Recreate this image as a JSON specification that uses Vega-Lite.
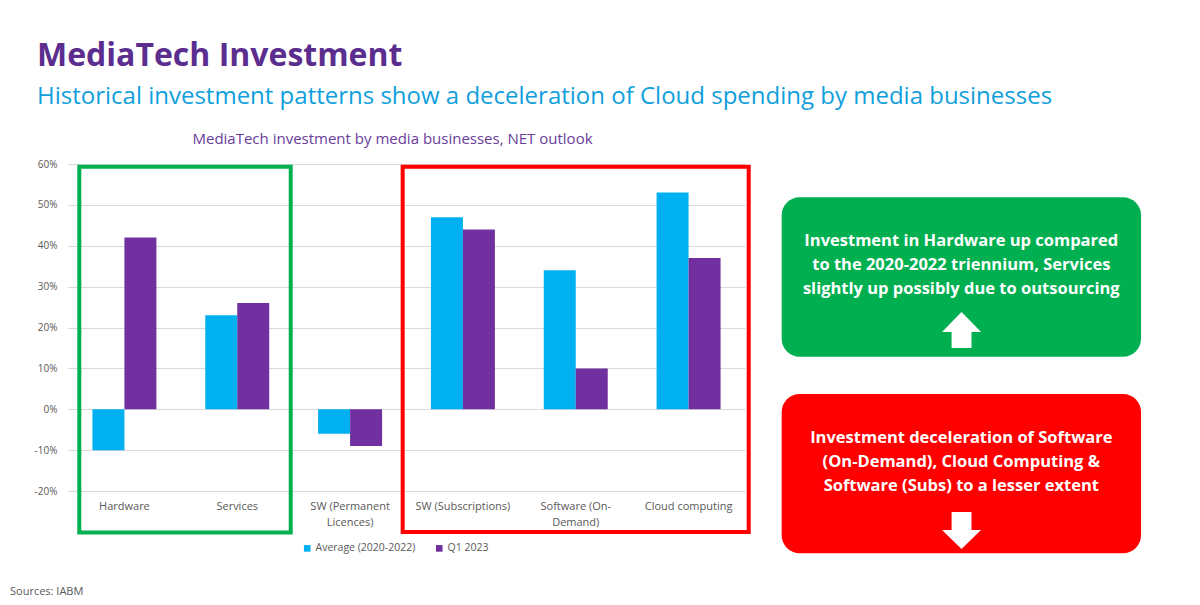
{
  "$schema": "https://vega.github.io/schema/vega-lite/v6.json",
  "width": 677,
  "height": 327,
  "autosize": {"type": "none"},
  "padding": {"left": 68, "top": 164, "right": 455, "bottom": 114},
  "background": "#ffffff",
  "config": {
    "view": {"stroke": null},
    "font": "Open Sans",
    "axis": {"labelFont": "Open Sans", "titleFont": "Open Sans"},
    "legend": {"labelFont": "Open Sans"}
  },
  "title": {
    "text": "MediaTech Investment",
    "subtitle": "Historical investment patterns show a deceleration of Cloud spending by media businesses",
    "anchor": "start",
    "frame": "group",
    "dx": -31,
    "offset": 21,
    "font": "Open Sans",
    "fontSize": 32,
    "fontWeight": "bold",
    "color": "#5B2D8E",
    "subtitleFont": "Open Sans",
    "subtitleFontSize": 24,
    "subtitleColor": "#0FA0DC",
    "subtitlePadding": 12
  },
  "data": {
    "values": [
      {"category": "Hardware", "series": "Average (2020-2022)", "value": -10},
      {"category": "Hardware", "series": "Q1 2023", "value": 42},
      {"category": "Services", "series": "Average (2020-2022)", "value": 23},
      {"category": "Services", "series": "Q1 2023", "value": 26},
      {"category": "SW (Permanent Licences)", "series": "Average (2020-2022)", "value": -6},
      {"category": "SW (Permanent Licences)", "series": "Q1 2023", "value": -9},
      {"category": "SW (Subscriptions)", "series": "Average (2020-2022)", "value": 47},
      {"category": "SW (Subscriptions)", "series": "Q1 2023", "value": 44},
      {"category": "Software (On-Demand)", "series": "Average (2020-2022)", "value": 34},
      {"category": "Software (On-Demand)", "series": "Q1 2023", "value": 10},
      {"category": "Cloud computing", "series": "Average (2020-2022)", "value": 53},
      {"category": "Cloud computing", "series": "Q1 2023", "value": 37}
    ]
  },
  "resolve": {"scale": {"x": "independent"}},
  "layer": [
    {
      "mark": {"type": "bar"},
      "encoding": {
        "x": {
          "field": "category",
          "type": "nominal",
          "sort": null,
          "scale": {"paddingInner": 0.433, "paddingOuter": 0.2165},
          "axis": {
            "title": null,
            "labelAngle": 0,
            "domain": false,
            "ticks": false,
            "labelPadding": 9,
            "labelFontSize": 11,
            "labelColor": "#595959",
            "labelLineHeight": 16,
            "labelExpr": "datum.value == 'SW (Permanent Licences)' ? ['SW (Permanent', 'Licences)'] : datum.value == 'Software (On-Demand)' ? ['Software (On-', 'Demand)'] : datum.value"
          }
        },
        "xOffset": {"field": "series", "type": "nominal", "sort": null},
        "y": {
          "field": "value",
          "type": "quantitative",
          "scale": {"domain": [-20, 60], "nice": false, "zero": false},
          "axis": {
            "title": null,
            "values": [-20, -10, 0, 10, 20, 30, 40, 50, 60],
            "labelExpr": "datum.value + '%'",
            "domain": false,
            "ticks": false,
            "labelPadding": 11,
            "labelFontSize": 10,
            "labelColor": "#595959",
            "gridColor": "#D9D9D9",
            "gridWidth": 1
          }
        },
        "color": {
          "field": "series",
          "type": "nominal",
          "scale": {"domain": ["Average (2020-2022)", "Q1 2023"], "range": ["#00B0F0", "#7030A0"]},
          "legend": {
            "orient": "none",
            "legendX": 234,
            "legendY": 379,
            "direction": "horizontal",
            "title": null,
            "symbolType": "square",
            "symbolSize": 44,
            "labelFontSize": 10.5,
            "labelColor": "#595959",
            "columnPadding": 18,
            "labelOffset": 3,
            "padding": 0
          }
        }
      }
    },
    {
      "data": {"values": [{}]},
      "layer": [
        {
          "mark": {"type": "rect", "filled": false, "stroke": "#00B050", "strokeWidth": 4},
          "encoding": {
            "x": {
              "datum": 0.1,
              "type": "quantitative",
              "scale": {"domain": [0, 6], "nice": false, "zero": false},
              "axis": {
                "orient": "top",
                "title": "MediaTech investment by media businesses, NET outlook",
                "domain": false,
                "ticks": false,
                "labels": false,
                "grid": false,
                "titleFontSize": 15,
                "titleFontWeight": "normal",
                "titleColor": "#6A3D9A",
                "titleX": 324,
                "titleY": -26,
                "titleBaseline": "middle",
                "titleAlign": "center"
              }
            },
            "x2": {"datum": 1.974},
            "y": {"datum": 59.34, "type": "quantitative"},
            "y2": {"datum": -30.15}
          }
        },
        {
          "mark": {"type": "rect", "filled": false, "stroke": "#FF0000", "strokeWidth": 4},
          "encoding": {
            "x": {"datum": 2.966, "type": "quantitative"},
            "x2": {"datum": 6.033},
            "y": {"datum": 59.34, "type": "quantitative"},
            "y2": {"datum": -30.0}
          }
        },
        {
          "mark": {"type": "rect", "fill": "#00B050", "cornerRadius": 18},
          "encoding": {
            "x": {"datum": 6.325, "type": "quantitative"},
            "x2": {"datum": 9.51},
            "y": {"datum": 51.85, "type": "quantitative"},
            "y2": {"datum": 12.86}
          }
        },
        {
          "mark": {"type": "rect", "fill": "#FF0000", "cornerRadius": 18},
          "encoding": {
            "x": {"datum": 6.325, "type": "quantitative"},
            "x2": {"datum": 9.51},
            "y": {"datum": 3.73, "type": "quantitative"},
            "y2": {"datum": -35.24}
          }
        },
        {
          "mark": {"type": "text", "fontSize": 16.5, "fontWeight": "bold", "color": "#ffffff", "align": "center", "baseline": "middle", "lineHeight": 24, "font": "Open Sans"},
          "encoding": {
            "x": {"datum": 7.917, "type": "quantitative"},
            "y": {"datum": 41.28, "type": "quantitative"},
            "text": {"value": ["Investment in Hardware up compared", "to the 2020-2022 triennium, Services", "slightly up possibly due to outsourcing"]}
          }
        },
        {
          "mark": {"type": "text", "fontSize": 16.5, "fontWeight": "bold", "color": "#ffffff", "align": "center", "baseline": "middle", "lineHeight": 24, "font": "Open Sans"},
          "encoding": {
            "x": {"datum": 7.917, "type": "quantitative"},
            "y": {"datum": -7.08, "type": "quantitative"},
            "text": {"value": ["Investment deceleration of Software", "(On-Demand), Cloud Computing &", "Software (Subs) to a lesser extent"]}
          }
        },
        {
          "mark": {"type": "point", "shape": "M0,-0.92L1,0.1L0.51,0.1L0.51,0.92L-0.51,0.92L-0.51,0.1L-1,0.1Z", "size": 1521, "filled": true, "color": "#ffffff", "opacity": 1, "strokeWidth": 0},
          "encoding": {
            "x": {"datum": 7.919, "type": "quantitative"},
            "y": {"datum": 19.39, "type": "quantitative"}
          }
        },
        {
          "mark": {"type": "point", "shape": "M0,0.95L1,-0.03L0.51,-0.03L0.51,-0.95L-0.51,-0.95L-0.51,-0.03L-1,-0.03Z", "size": 1521, "filled": true, "color": "#ffffff", "opacity": 1, "strokeWidth": 0},
          "encoding": {
            "x": {"datum": 7.919, "type": "quantitative"},
            "y": {"datum": -29.66, "type": "quantitative"}
          }
        },
        {
          "mark": {"type": "text", "fontSize": 11, "color": "#595959", "align": "left", "baseline": "middle", "font": "Open Sans"},
          "encoding": {
            "x": {"datum": -0.514, "type": "quantitative"},
            "y": {"datum": -44.7, "type": "quantitative"},
            "text": {"value": "Sources: IABM"}
          }
        }
      ]
    }
  ]
}
